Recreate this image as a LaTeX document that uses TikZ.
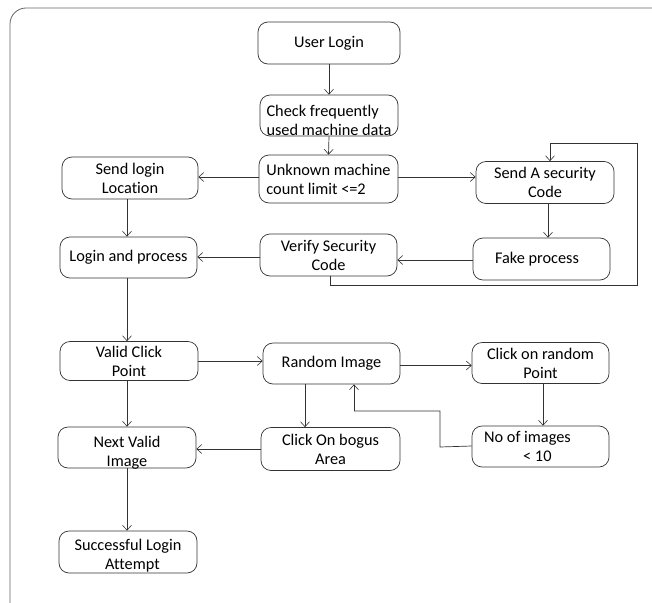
\documentclass[tikz,border=0pt]{standalone}
\usepackage{fontspec}
\setmainfont{Carlito}[Ligatures=NoCommon]
\usetikzlibrary{arrows.meta,calc}
\begin{document}
\begin{tikzpicture}[x=1pt,y=-1pt,
  box/.style={draw=black!80, line width=0.7pt, rounded corners=10pt, align=center,
    font=\fontsize{16.3}{19}\selectfont, inner sep=0pt, text=black},
  txt/.style={align=center, font=\fontsize{16.3}{19}\selectfont, inner sep=0pt, text=black},
  arr/.style={draw=black!80, line width=0.7pt, -{Straight Barb[length=5pt,width=9pt,line width=0.6pt]}},
  ln/.style={draw=black!80, line width=0.7pt}]
\useasboundingbox (0,0) rectangle (652,602);
\begin{scope}
\clip (0,0) rectangle (652,602);
\draw[black!60, line width=0.8pt, rounded corners=16pt] (10,8) rectangle (690,625);
\end{scope}
% boxes
\node[box, minimum width=142, minimum height=42] (ul) at (329,43) {User Login};
\node[box, minimum width=138, minimum height=41] (cf) at (329,115.5) {};
\node[txt, align=left] (cft) at ([yshift=-5pt]cf.center) {Check frequently\\used machine data};
\node[box, minimum width=139, minimum height=48, align=left] (um) at (328.5,179) {Unknown machine\\count limit <=2};
\node[box, minimum width=136, minimum height=42] (sl) at (130,178) {Send login\\Location};
\node[box, minimum width=138, minimum height=42] (sa) at (545,182.5) {Send A security\\Code};
\node[box, minimum width=137, minimum height=41] (lp) at (128.5,257.5) {Login and process};
\node[box, minimum width=137, minimum height=42] (vs) at (328.5,255) {Verify Security\\Code};
\node[box, minimum width=137, minimum height=42] (fp) at (541.5,259) {\hspace*{-9pt}Fake process};
\node[box, minimum width=138, minimum height=39] (vc) at (129,361) {Valid Click\\Point};
\node[box, minimum width=137, minimum height=41] (ri) at (331.5,363.5) {Random Image};
\node[box, minimum width=137, minimum height=41] (cr) at (540.5,363) {Click on random\\Point};
\node[box, minimum width=138, minimum height=41] (nv) at (127,447.5) {};
\node[txt] (nvt) at ([yshift=-5pt]nv.center) {Next Valid\\Image};
\node[box, minimum width=139, minimum height=43] (cb) at (330.5,449) {Click On bogus\\Area};
\node[box, minimum width=137, minimum height=41, align=left] (ni) at (540.5,446.5) {No of images\hspace*{26pt}\\\hspace*{39pt}< 10};
\node[box, minimum width=138, minimum height=42] (sc) at (128,552) {};
\node[txt] (sct) at ([yshift=-3.5pt]sc.center) {Successful Login\\\hspace*{9pt}Attempt};
% vertical connectors
\draw[arr] (ul.south) -- (cf.north);
\draw[arr] (cf.south) -- (um.north);
\draw[arr] ([xshift=-3pt]sl.south) -- ([xshift=-3pt]sl.south |- lp.north);
\draw[arr] ([xshift=3pt]sa.south) -- ([xshift=3pt]sa.south |- fp.north);
\draw[arr] ([xshift=-1.5pt]lp.south) -- ([xshift=-1.5pt]lp.south |- vc.north);
\draw[arr] ([xshift=-2pt]vc.south) -- ([xshift=-2pt]vc.south |- nv.north);
\draw[arr] (nv.south) -- (nv.south |- sc.north);
\draw[arr] ([xshift=-26.5pt]ri.south) -- ([xshift=-26.5pt]ri.south |- cb.north);
\draw[arr] ([xshift=2.5pt]cr.south) -- ([xshift=2.5pt]cr.south |- ni.north);
% horizontal connectors
\draw[arr] ([yshift=2pt]um.west) -- ([yshift=2pt]um.west -| sl.east);
\draw[arr] ([yshift=2pt]um.east) -- ([yshift=2pt]um.east -| sa.west);
\draw[arr] ([yshift=-1pt]fp.west) -- ([yshift=-1pt]fp.west -| vs.east);
\draw[arr] ([yshift=-2pt]vs.west) -- ([yshift=-2pt]vs.west -| lp.east);
\draw[arr] (vc.east) -- (vc.east -| ri.west);
\draw[arr] ([yshift=-2pt]ri.east) -- ([yshift=-2pt]ri.east -| cr.west);
\draw[arr] (cb.west) -- (cb.west -| nv.east);
% loop 1
\coordinate (l1a) at (330,285);
\coordinate (l1b) at (637,285);
\coordinate (l1c) at (637,143);
\coordinate (l1d) at (550,143);
\draw[ln] ([xshift=1.5pt]vs.south) -- (l1a) -- (l1b) -- (l1c) -- (l1d);
\draw[arr] (l1d) -- (l1d |- sa.north);
% loop 2
\coordinate (l2a) at (440,447);
\coordinate (l2b) at (440,411);
\coordinate (l2c) at (354,411);
\draw[ln] ([yshift=0.5pt]ni.west) -- (l2a) -- (l2b) -- (l2c);
\draw[arr] (l2c) -- (l2c |- ri.south);
\end{tikzpicture}
\end{document}
